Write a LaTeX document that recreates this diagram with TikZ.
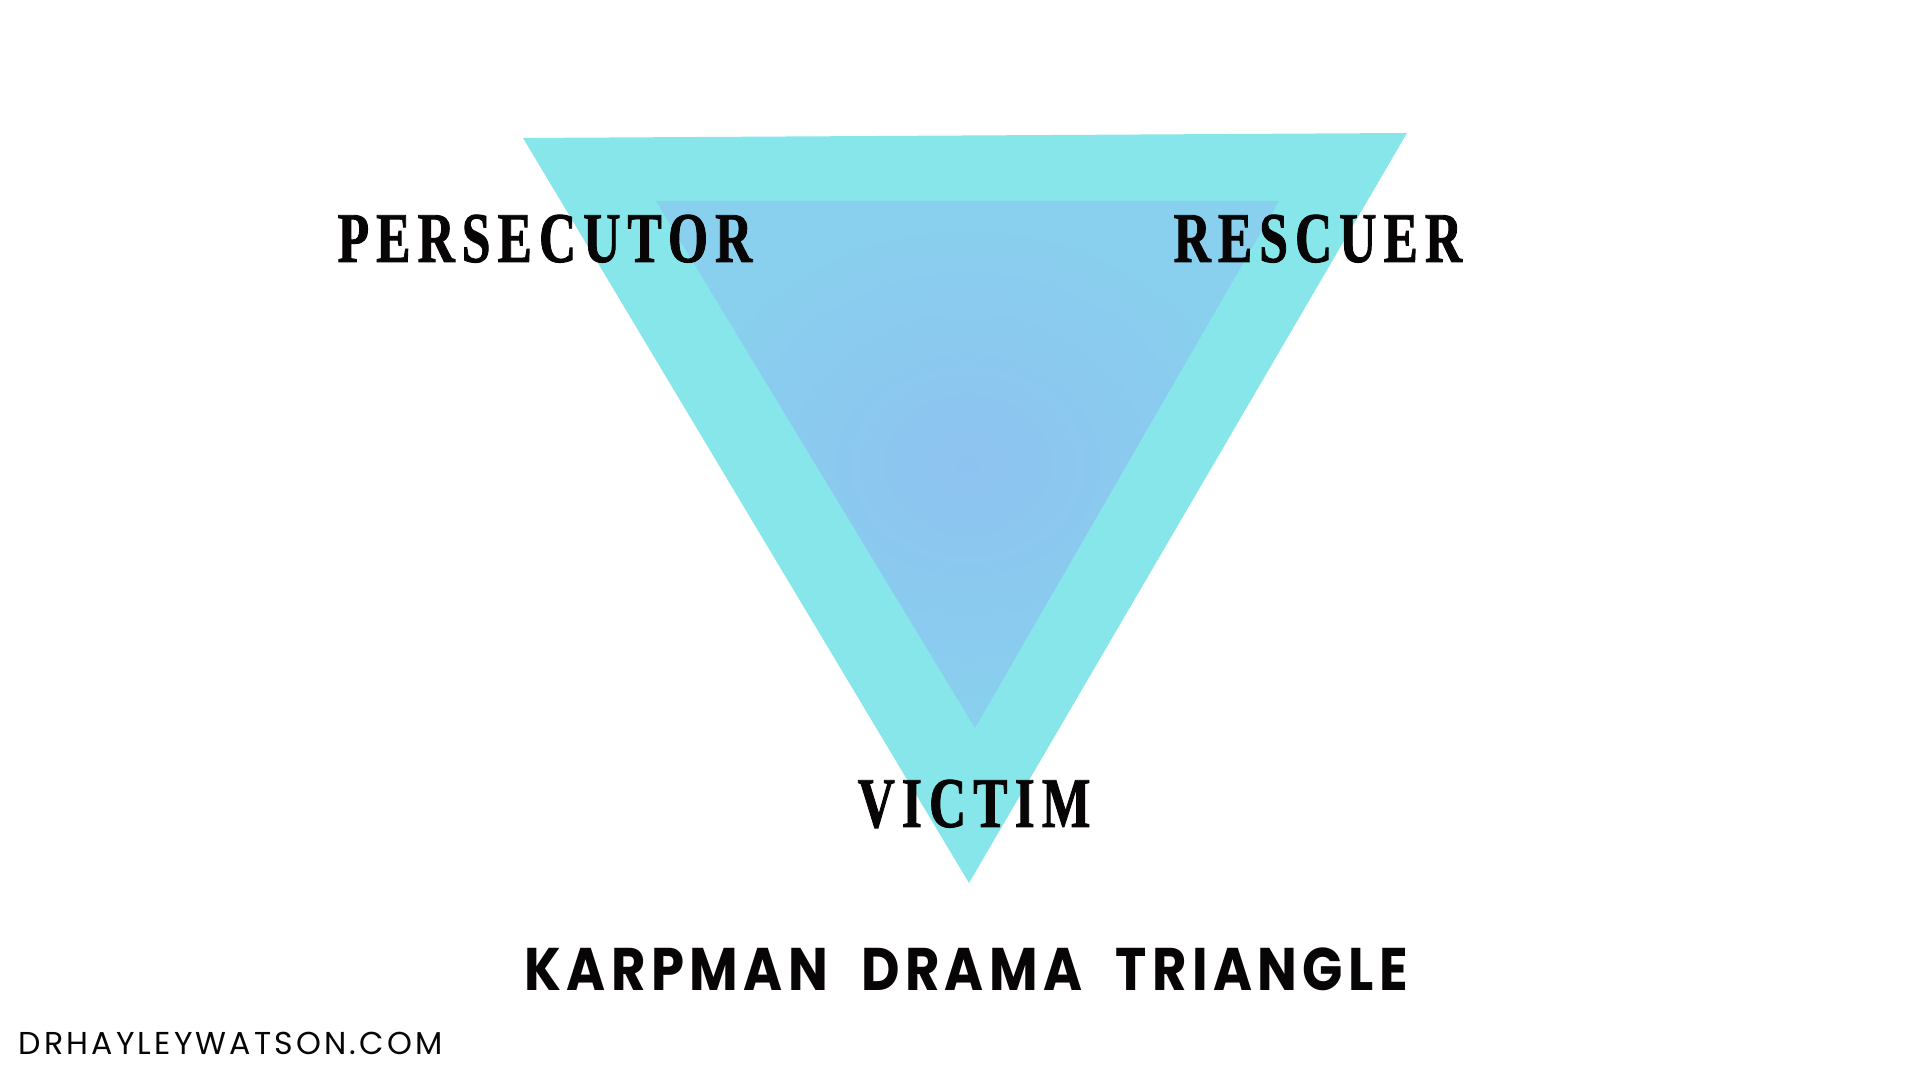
\documentclass[tikz,border=0pt]{standalone}
\usepackage{fontspec}
\setmainfont{Liberation Serif}
\newfontfamily\rolefont{Liberation Serif}[FakeStretch=0.72,LetterSpace=10,BoldFeatures={FakeBold=1.2}]
\newfontfamily\titlefont{Poppins}[FakeStretch=0.88,LetterSpace=9,WordSpace=2]
\newfontfamily\sitefont{Poppins}[LetterSpace=10]
\newlength{\du}
\setlength{\du}{0.01cm}
\tikzset{
  role/.style={anchor=base west, inner sep=0pt, font=\rolefont\bfseries\fontsize{20.3}{24}\selectfont},
  caption/.style={anchor=base west, inner sep=0pt, font=\titlefont\bfseries\fontsize{17.1}{20}\selectfont},
  site/.style={anchor=base west, inner sep=0pt, font=\sitefont\fontsize{9}{11}\selectfont}
}

\begin{document}
\begin{tikzpicture}
\pgftransformxscale{1.000000}
\pgftransformyscale{-1.000000}
\definecolor{outercyan}{rgb}{0.525490, 0.901961, 0.917647}
\definecolor{innermid}{rgb}{0.552941, 0.764706, 0.941176}
\definecolor{inneredge}{rgb}{0.537255, 0.815686, 0.933333}
\definecolor{textblack}{rgb}{0.031373, 0.019608, 0.023529}
\useasboundingbox[fill=white] (0\du,0\du) rectangle (1920\du,1080\du);
% outer triangle
\coordinate (outerleft) at (523\du,138\du);
\coordinate (outerright) at (1407\du,133\du);
\coordinate (outertip) at (969\du,883\du);
\fill[outercyan] (outerleft) -- (outerright) -- (outertip) -- cycle;
% inner triangle, faint radial glow
\coordinate (innerleft) at (656\du,201\du);
\coordinate (innerright) at (1279\du,201\du);
\coordinate (innertip) at (975\du,728\du);
\shade[inner color=innermid, outer color=inneredge] (innerleft) -- (innerright) -- (innertip) -- cycle;
% labels
\node[role, textblack] (persecutor) at (337\du,262\du){PERSECUTOR};
\node[role, textblack] (rescuer) at (1173\du,262\du){RESCUER};
\node[role, textblack] (victim) at (857\du,827\du){VICTIM};
\node[caption, textblack] (title) at (524\du,991\du){KARPMAN DRAMA TRIANGLE};
\node[site, textblack] (website) at (18\du,1055\du){DRHAYLEYWATSON.COM};
\end{tikzpicture}
\end{document}
